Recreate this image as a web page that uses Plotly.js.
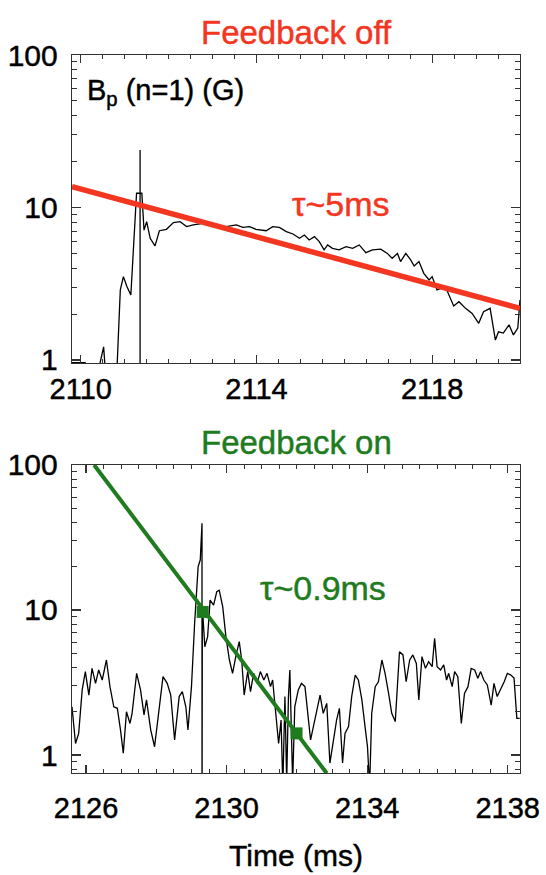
<!DOCTYPE html>
<html>
<head>
<meta charset="utf-8">
<script src="https://cdn.plot.ly/plotly-3.0.1.min.js"></script>
<style>html,body{margin:0;padding:0;background:#fff;}#chart{width:546px;height:875px;}</style>
</head>
<body>
<div id="chart"></div>
<script>
// ---------- Feedback off (top panel) ----------
var offTime = [2109.80,2110.10,2110.22,2110.44,2110.52,2110.58,2110.81,2110.90,2110.97,2111.05,2111.14,2111.20,2111.25,2111.27,2111.35,2111.35,2111.35,2111.35,2111.39,2111.40,2111.44,2111.50,2111.58,2111.69,2111.79,2111.95,2112.11,2112.26,2112.41,2112.56,2112.71,2112.86,2113.01,2113.16,2113.31,2113.54,2113.69,2113.84,2113.99,2114.22,2114.37,2114.52,2114.68,2114.83,2114.98,2115.09,2115.20,2115.32,2115.43,2115.54,2115.62,2115.73,2115.88,2116.04,2116.19,2116.34,2116.49,2116.64,2116.83,2116.98,2117.09,2117.21,2117.28,2117.40,2117.51,2117.59,2117.70,2117.81,2117.93,2118.00,2118.11,2118.30,2118.49,2118.61,2118.76,2118.91,2119.06,2119.17,2119.32,2119.44,2119.51,2119.62,2119.75,2119.85,2119.95,2120.00];
var offBp = [0.96,0.96,0.7,0.96,1.22,0.7,0.7,2.88,3.52,3.03,2.67,5.53,10.6,12.4,12.4,23.8,0.5,12.4,12.4,10.6,7.1,8.07,6.28,5.6,7.04,7.19,7.96,8.07,7.49,7.68,7.8,8.07,7.68,7.3,7.49,7.68,7.41,7.49,7.19,7.04,7.49,7.41,6.95,6.7,6.28,6.6,6.12,6.44,5.97,5.27,5.68,5.4,5.27,5.53,5.4,5.68,5.06,5.27,5.33,5.0,4.64,5.0,4.42,5.0,4.53,4.13,4.42,3.7,3.35,3.52,2.88,3.03,2.26,2.41,2.18,2.02,1.74,2.07,2.18,1.35,1.53,1.50,1.70,1.46,1.62,2.47];
var offFitTime = [2109.8, 2120.0];
var offFitBp = [13.7, 2.18];

// ---------- Feedback on (bottom panel) ----------
var onTime = [2125.60,2125.70,2125.79,2125.89,2125.98,2126.08,2126.17,2126.27,2126.36,2126.46,2126.58,2126.68,2126.79,2126.89,2126.98,2127.06,2127.15,2127.25,2127.31,2127.44,2127.55,2127.65,2127.72,2127.84,2127.95,2128.08,2128.19,2128.31,2128.41,2128.52,2128.65,2128.74,2128.84,2128.90,2129.00,2129.09,2129.19,2129.25,2129.30,2129.30,2129.31,2129.38,2129.46,2129.53,2129.63,2129.72,2129.79,2129.89,2129.98,2130.08,2130.17,2130.27,2130.36,2130.43,2130.50,2130.60,2130.68,2130.77,2130.87,2130.96,2131.06,2131.15,2131.25,2131.31,2131.41,2131.48,2131.55,2131.60,2131.66,2131.71,2131.76,2131.80,2131.88,2131.94,2132.04,2132.13,2132.23,2132.32,2132.39,2132.47,2132.58,2132.66,2132.75,2132.85,2132.94,2133.04,2133.13,2133.21,2133.30,2133.37,2133.47,2133.56,2133.66,2133.75,2133.85,2133.94,2134.01,2134.07,2134.13,2134.23,2134.32,2134.42,2134.51,2134.61,2134.70,2134.80,2134.87,2134.92,2135.02,2135.11,2135.21,2135.30,2135.40,2135.47,2135.56,2135.66,2135.75,2135.85,2135.92,2135.99,2136.09,2136.18,2136.26,2136.32,2136.42,2136.49,2136.58,2136.68,2136.77,2136.87,2136.96,2137.06,2137.15,2137.23,2137.32,2137.42,2137.53,2137.61,2137.70,2137.80,2137.90,2137.99,2138.09,2138.18,2138.26,2138.34];
var onBp = [2.15,1.20,1.41,2.81,3.76,2.59,3.96,3.12,3.86,3.29,4.52,2.96,2.15,2.10,1.49,1.03,1.99,1.65,1.94,3.66,2.81,1.89,2.40,1.49,1.14,2.15,3.47,3.12,2.59,1.27,2.53,2.74,2.15,1.49,2.96,8.10,19.9,22.1,39.6,0.3,10.5,5.58,6.55,11.7,10.8,13.4,13.7,10.5,6.55,4.52,3.66,4.9,6.05,4.52,2.59,3.76,2.74,3.66,3.12,3.76,3.29,3.66,2.96,3.29,1.94,1.20,1.74,0.6,2.53,0.65,2.53,3.86,0.65,2.15,2.81,3.12,2.96,1.94,1.27,1.57,2.15,2.59,1.94,2.27,0.88,1.27,1.74,2.10,0.88,1.41,1.57,2.53,3.56,3.29,2.40,1.57,1.14,0.6,1.94,2.96,3.2,4.52,3.66,2.66,1.94,1.70,3.29,5.16,4.9,3.2,4.52,4.9,4.28,2.40,4.77,3.96,4.40,4.07,6.38,4.07,3.86,4.18,3.29,3.66,2.96,3.76,3.47,1.65,2.66,2.96,3.96,3.86,3.38,3.76,3.29,3.04,2.21,3.12,2.53,2.81,3.2,3.66,3.56,3.4,1.79,1.79];
var onFitTime = [2126.23, 2132.85];
var onFitBp = [100, 0.748];
var onMarkTime = [2129.32, 2131.99];
var onMarkBp = [9.7, 1.41];

// ---------- labels ----------
var xTicksTop = [2110, 2114, 2118];
var xTicksBottom = [2126, 2130, 2134, 2138];
var titleOff = 'Feedback off';
var titleOn = 'Feedback on';
var tauOff = 'τ~5ms';
var tauOn = 'τ~0.9ms';
var yLabel = 'B<sub>p</sub> (n=1) (G)';
var xLabel = 'Time (ms)';

var RED = '#f2361f', GREEN = '#1e7b1e', FRAME = '#333333';
var FONT = 'Liberation Sans, Arial, Helvetica, sans-serif';

var traces = [
  {x: offTime, y: offBp, xaxis:'x', yaxis:'y', mode:'lines', line:{color:'#000', width:1.3}, hoverinfo:'skip'},
  {x: offFitTime, y: offFitBp, xaxis:'x', yaxis:'y', mode:'lines', line:{color:RED, width:5.5}, hoverinfo:'skip'},
  {x: onTime, y: onBp, xaxis:'x2', yaxis:'y2', mode:'lines', line:{color:'#000', width:1.3}, hoverinfo:'skip'},
  {x: onFitTime, y: onFitBp, xaxis:'x2', yaxis:'y2', mode:'lines', line:{color:GREEN, width:4}, hoverinfo:'skip'},
  {x: onMarkTime, y: onMarkBp, xaxis:'x2', yaxis:'y2', mode:'markers', marker:{symbol:'square', size:12, color:GREEN}, hoverinfo:'skip'}
];

function xAx(range, ticks, dom, anchor, extra) {
  var a = {domain: dom, anchor: anchor, range: range, tickmode:'array', tickvals: ticks,
    ticks:'inside', ticklen:8, tickwidth:1.2, tickcolor:FRAME,
    minor:{dtick:0.5, tick0:2110, ticks:'inside', ticklen:4, tickwidth:1, tickcolor:FRAME},
    showline:true, linecolor:FRAME, linewidth:1.3, mirror:'ticks',
    showgrid:false, zeroline:false, tickfont:{family:FONT, size:29, color:'#000'}};
  for (var k in extra) a[k] = extra[k];
  return a;
}
function yAx(range, dom, anchor) {
  return {domain: dom, anchor: anchor, type:'log', range: range, dtick:1,
    ticks:'inside', ticklen:9, tickwidth:1.2, tickcolor:FRAME,
    minor:{dtick:'D1', ticks:'inside', ticklen:5, tickwidth:1, tickcolor:FRAME},
    showline:true, linecolor:FRAME, linewidth:1.3, mirror:'ticks',
    showgrid:false, zeroline:false, ticklabelstandoff:7,
    tickfont:{family:FONT, size:30, color:'#000'}};
}

var layout = {
  width:546, height:875,
  margin:{l:72, r:26, t:55, b:102},
  paper_bgcolor:'#fff', plot_bgcolor:'#fff',
  showlegend:false,
  font:{family:FONT, color:'#000'},
  xaxis: xAx([2109.8, 2120.0], xTicksTop, [0,1], 'y', {ticklabelstandoff:0}),
  yaxis: yAx([-0.02, 2], [0.571, 1], 'x'),
  xaxis2: xAx([2125.6, 2138.35], xTicksBottom, [0,1], 'y2', {ticklabelstandoff:9,
    title:{text:xLabel, font:{family:FONT, size:30, color:'#000'}, standoff:22}}),
  yaxis2: yAx([-0.124, 2], [0, 0.429], 'x2'),
  annotations: [
    {text:titleOff, xref:'paper', yref:'paper', x:0.5, y:1.032, xanchor:'center', yanchor:'middle', showarrow:false, font:{family:FONT, size:33, color:RED}},
    {text:titleOn, xref:'paper', yref:'paper', x:0.5, y:0.46, xanchor:'center', yanchor:'middle', showarrow:false, font:{family:FONT, size:33, color:GREEN}},
    {text:yLabel, xref:'x domain', yref:'y domain', x:0.03, y:0.88, xanchor:'left', yanchor:'middle', showarrow:false, font:{family:FONT, size:29, color:'#000'}},
    {text:tauOff, xref:'x domain', yref:'y domain', x:0.6, y:0.516, xanchor:'center', yanchor:'middle', showarrow:false, font:{family:FONT, size:34, color:RED}},
    {text:tauOn, xref:'x2 domain', yref:'y2 domain', x:0.56, y:0.6, xanchor:'center', yanchor:'middle', showarrow:false, font:{family:FONT, size:34, color:GREEN}}
  ]
};

Plotly.newPlot('chart', traces, layout, {displayModeBar:false, staticPlot:true}).then(function(){
  // slightly heavier strokes on the text, like the rasterised original
  document.querySelectorAll('#chart svg text').forEach(function(t){
    var f = t.style.fill;
    if (f) { t.style.stroke = f; t.style.strokeWidth = '0.45px'; }
  });
});
</script>
</body>
</html>
